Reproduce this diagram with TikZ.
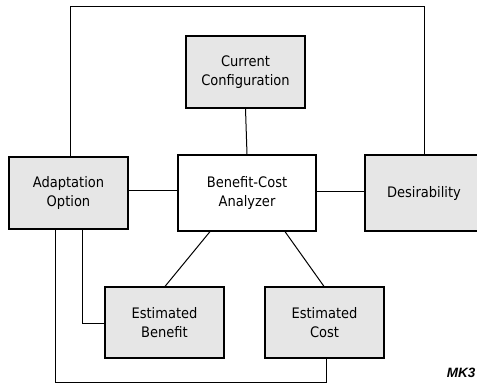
\documentclass[tikz,border=0pt]{standalone}
\usepackage{fontspec}
\setmainfont{DejaVu Sans Condensed}
\newfontfamily\mkfont{Liberation Sans}
\definecolor{boxgray}{HTML}{E6E6E6}
\tikzset{
  blk/.style={draw=black, line width=1.2pt, fill=boxgray, inner sep=0pt, align=center,
    font=\fontsize{14.5}{19}\selectfont},
  wire/.style={draw=black, line width=1pt}
}
\begin{document}
\begin{tikzpicture}[x=1pt,y=-1pt]
\useasboundingbox (0,0) rectangle (477,384);
\begin{scope}
\clip (0,0) rectangle (477,384);
\node[blk, minimum width=119pt, minimum height=72pt] (cc) at (245.5,72) {Current\\Configuration};
\node[blk, fill=white, minimum width=138pt, minimum height=76pt] (bca) at (247,193) {Benefit-Cost\\Analyzer};
\node[blk, minimum width=119pt, minimum height=72pt] (ao) at (68.5,193) {Adaptation\\Option};
\node[blk, minimum width=130pt, minimum height=76pt] (des) at (430,193) {};
\node[font=\fontsize{14.5}{19}\selectfont, inner sep=0pt] (destext) at (424,193) {Desirability};
\node[blk, minimum width=119pt, minimum height=71pt] (eb) at (164.5,322.5) {Estimated\\Benefit};
\node[blk, minimum width=119pt, minimum height=71pt] (ec) at (324.5,322.5) {Estimated\\Cost};
\coordinate (top) at (0,6);
\coordinate (bot) at (0,382);
\coordinate (mid) at (0,323);
\draw[wire] (cc.south) -- (bca.north);
\draw[wire] (ao.east |- 0,190) -- (bca.west |- 0,190);
\draw[wire] (bca.east |- 0,191) -- (des.west |- 0,191);
\draw[wire] (bca.south -| 210,0) -- (eb.north -| 165,0);
\draw[wire] (bca.south -| 285,0) -- (ec.north -| 324,0);
\draw[wire] (ao.north -| 70,0) -- (top -| 70,0) -- (top -| 424,0) -- (des.north -| 424,0);
\draw[wire] (ao.south -| 82,0) -- (mid -| 82,0) -- (eb.west |- mid);
\draw[wire] (ao.south -| 55,0) -- (bot -| 55,0) -- (bot -| 326,0) -- (ec.south -| 326,0);
\node[anchor=base east, inner sep=0pt, font=\mkfont\fontsize{13.5}{16}\selectfont\bfseries\itshape] (mk) at (475.5,377) {MK3};
\end{scope}
\end{tikzpicture}
\end{document}
